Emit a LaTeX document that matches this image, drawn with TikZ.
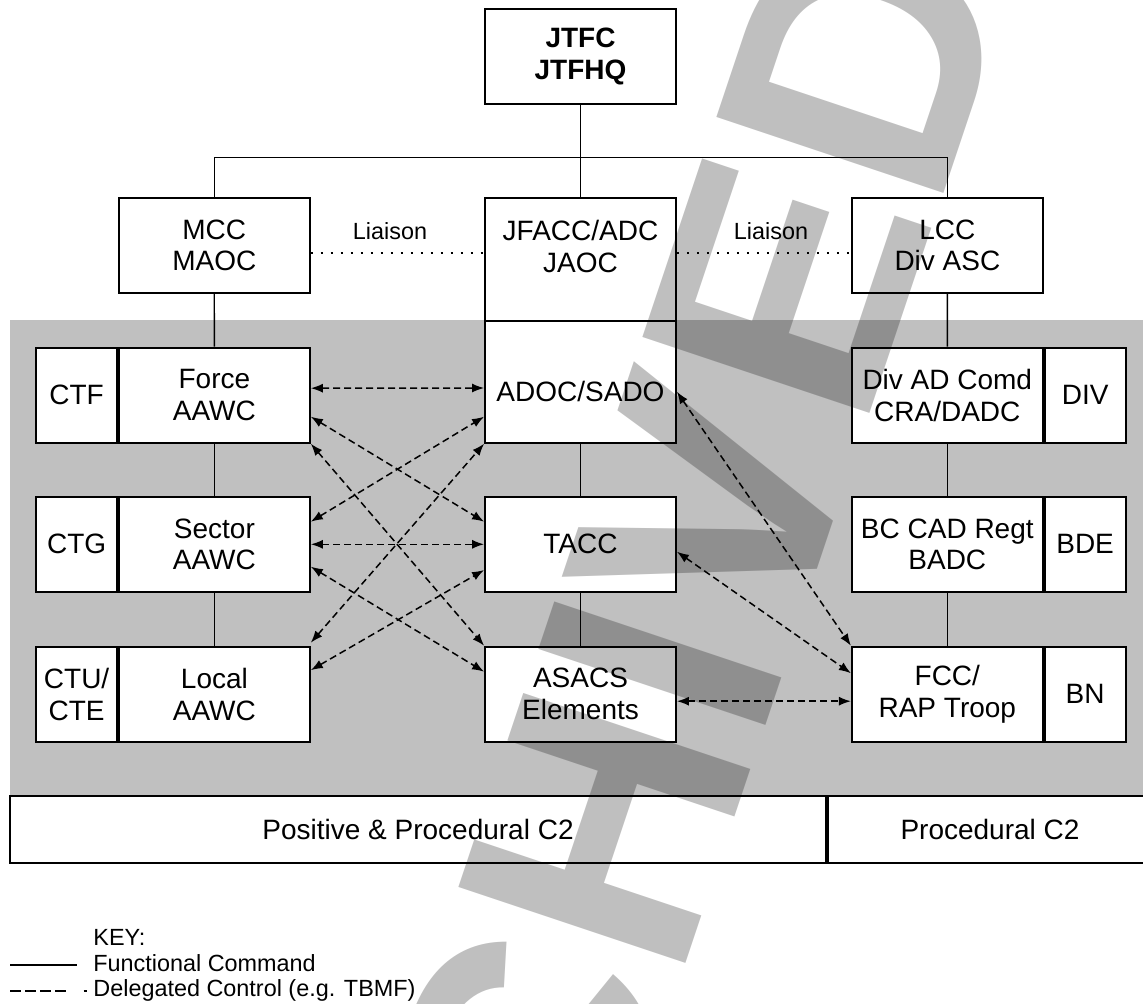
\documentclass[tikz,border=0pt]{standalone}
\usepackage{fontspec}
\setmainfont{Liberation Sans}
\usepackage{tikz}
\usetikzlibrary{calc,arrows.meta,positioning}
\definecolor{bandgray}{RGB}{192,192,192}

\begin{document}
\begin{tikzpicture}[x=0.5pt,y=-0.5pt,>={Latex[length=6pt,width=4.5pt]},
		cellbox/.style={draw,line width=1pt,fill=white,inner sep=0pt,align=center,
			minimum height=47.5pt,font=\fontsize{14}{15.85}\selectfont},
		widebox/.style={cellbox,minimum width=95.4pt},
		tagbox/.style={cellbox,minimum width=40.4pt},
		c2box/.style={cellbox,minimum height=33.5pt},
		cmdline/.style={line width=0.65pt},
		ctlline/.style={line width=0.75pt,dash pattern=on 3.5pt off 2pt},
		liaisonline/.style={line width=1pt,dash pattern=on 1pt off 4pt},
		keytext/.style={inner sep=0pt,font=\fontsize{11.7}{13}\selectfont}]
	
	\useasboundingbox (0,0) rectangle (1143,1004);
	
	% shaded area
	\fill[bandgray] (10,320) rectangle (1150,796);
	
	% command level
	\node[widebox,font=\fontsize{14}{15.85}\selectfont\bfseries] (jtfc) at (580.5,56.2) {JTFC\\JTFHQ};
	\coordinate (bar) at (580.5,157.7);
	\node[widebox] (mcc) at (214.3,245.5) {MCC\\MAOC};
	\node[widebox,minimum height=61.5pt,
		label={[keytext,font=\fontsize{14}{15.85}\selectfont,align=center,yshift=6.35pt]center:{JFACC/ADC\\JAOC}}] (jfacc) at (580.5,259.2) {};
	\node[widebox] (lcc) at (947.4,245.5) {LCC\\Div ASC};
	\node[keytext] (liaisonl) at (390,231.5) {Liaison};
	\node[keytext] (liaisonr) at (771,231.5) {Liaison};
	
	% maritime side
	\node[widebox] (forceaawc) at (214.4,395.2) {Force\\AAWC};
	\node[tagbox,left=0pt of forceaawc] (ctf) {CTF};
	\node[widebox] (sectoraawc) at (214.4,544.3) {Sector\\AAWC};
	\node[tagbox,left=0pt of sectoraawc] (ctg) {CTG};
	\node[widebox] (localaawc) at (214.4,694.2) {Local\\AAWC};
	\node[tagbox,left=0pt of localaawc] (ctu) {CTU/\\CTE};
	
	% air side
	\node[widebox,minimum height=61pt,
		label={[keytext,font=\fontsize{14}{15.85}\selectfont,yshift=-4.65pt]center:ADOC/SADO}] (adoc) at (580.5,381.7) {};
	\node[widebox] (tacc) at (580.5,544.3) {TACC};
	\node[widebox] (asacs) at (580.5,694.2) {ASACS\\Elements};
	
	% land side
	\node[widebox] (divad) at (947.3,395.2) {Div AD Comd\\CRA/DADC};
	\node[tagbox,right=0pt of divad] (div) {DIV};
	\node[widebox] (bcad) at (947.3,544.3) {BC CAD Regt\\BADC};
	\node[tagbox,right=0pt of bcad] (bde) {BDE};
	\node[widebox] (fcc) at (947.3,694.2) {FCC/\\RAP Troop};
	\node[tagbox,right=0pt of fcc] (bn) {BN};
	
	% C2 strip
	\node[c2box,minimum width=408pt] (posc2) at (418,829.5) {Positive \& Procedural C2};
	\node[c2box,minimum width=162pt,right=0pt of posc2] (procc2) {Procedural C2};
	
	% functional command
	\draw[cmdline] (jtfc) -- (jfacc);
	\draw[cmdline] (mcc.north) |- (bar) -| (lcc.north);
	\draw[cmdline] (mcc) -- (forceaawc);
	\draw[cmdline] (forceaawc) -- (sectoraawc);
	\draw[cmdline] (sectoraawc) -- (localaawc);
	\draw[cmdline] (adoc) -- (tacc);
	\draw[cmdline] (tacc) -- (asacs);
	\draw[cmdline] (lcc) -- (divad);
	\draw[cmdline] (divad) -- (bcad);
	\draw[cmdline] (bcad) -- (fcc);
	
	% liaison
	\draw[liaisonline] ($(mcc.east)+(0,7.2)$) coordinate (la) -- (la -| jfacc.west);
	\draw[liaisonline] ($(jfacc.east)+(0,-6.5)$) coordinate (lb) -- (lb -| lcc.west);
	
	% delegated control
	\draw[ctlline,<->] ($(forceaawc.east)+(0,-7)$) -- ($(adoc.west)+(0,6.3)$);
	\draw[ctlline,<->] ($(forceaawc.east)+(0,21.5)$) -- ($(tacc.west)+(0,-22.6)$);
	\draw[ctlline,<->] (forceaawc.south east) -- (asacs.north west);
	\draw[ctlline,<->] ($(sectoraawc.east)+(0,-22.6)$) -- ($(adoc.west)+(0,35)$);
	\draw[ctlline,<->] (sectoraawc.east) -- (tacc.west);
	\draw[ctlline,<->] ($(sectoraawc.east)+(0,22.4)$) -- ($(asacs.west)+(0,-22.5)$);
	\draw[ctlline,<->] ($(localaawc.north east)+(0,-3)$) -- (adoc.south west);
	\draw[ctlline,<->] ($(localaawc.east)+(0,-24)$) -- ($(tacc.west)+(0,25.7)$);
	\draw[ctlline,<->] ($(adoc.east)+(0,10)$) -- (fcc.north west);
	\draw[ctlline,<->] ($(tacc.east)+(0,7.4)$) -- ($(fcc.west)+(0,-21)$);
	\draw[ctlline,<->] ($(asacs.east)+(0,7)$) -- ($(fcc.west)+(0,7)$);
	
	% key
	\node[keytext,anchor=base west] (keyhead) at (93,945.7) {KEY:};
	\node[keytext,anchor=base west] (keycmd) at (93,971.7) {Functional Command};
	\node[keytext,anchor=base west] (keyctl) at (93,996.7) {Delegated Control (e.g. TBMF)};
	\coordinate (cmdstart) at (10,965);
	\coordinate (ctlstart) at (10,991);
	\draw[cmdline,line width=0.8pt,shorten >=8pt] (cmdstart) -- (cmdstart -| keycmd.west);
	\draw[cmdline,line width=0.8pt,shorten >=3pt,
		dash pattern=on 5.3pt off 2.2pt on 5.3pt off 2.2pt on 5.3pt off 2.2pt on 5.3pt off 9pt on 2pt off 9pt]
		(ctlstart) -- (ctlstart -| keyctl.west);
	
	% stamp
	\node[rotate=71.5,anchor=base west,inner sep=0pt,text=black,text opacity=0.25,
		font=\fontsize{174}{174}\selectfont\bfseries] (stamp) at (439,1701) {ARCHIVED};
	
\end{tikzpicture}
\end{document}
